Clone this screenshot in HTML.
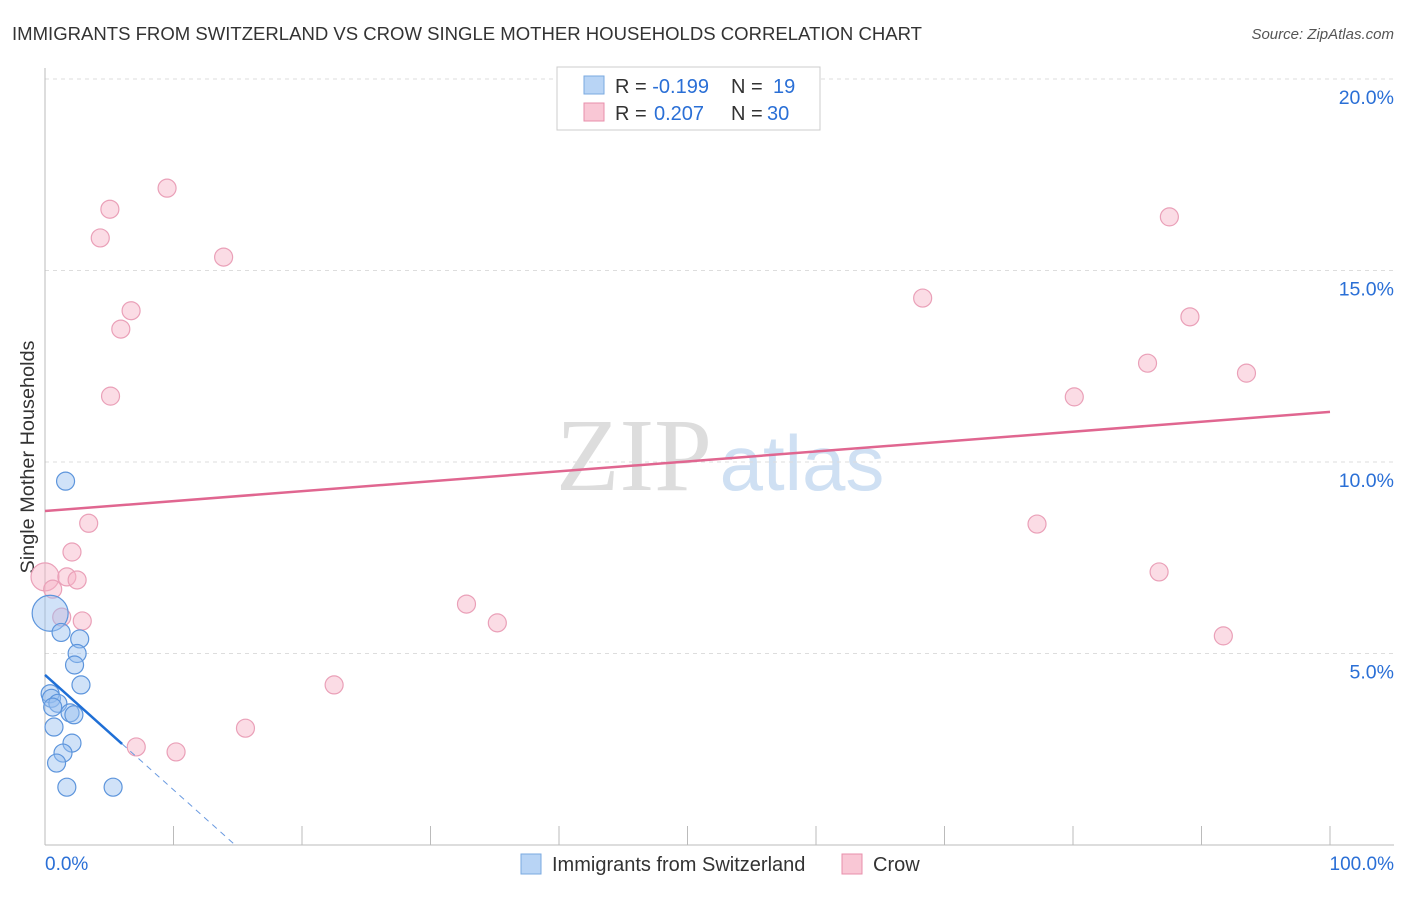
<!DOCTYPE html>
<html><head><meta charset="utf-8"><style>
body{margin:0;background:#fff;font-family:"Liberation Sans",sans-serif;}
</style></head><body>
<svg width="1406" height="892" xmlns="http://www.w3.org/2000/svg" id="svg">
<text x="12" y="40" font-size="18.5" fill="#333" textLength="910" lengthAdjust="spacingAndGlyphs">IMMIGRANTS FROM SWITZERLAND VS CROW SINGLE MOTHER HOUSEHOLDS CORRELATION CHART</text>
<text x="1394" y="39" font-size="15" fill="#555" font-style="italic" text-anchor="end">Source: ZipAtlas.com</text>
<text x="34" y="457" font-size="19" fill="#333" text-anchor="middle" textLength="233" lengthAdjust="spacingAndGlyphs" transform="rotate(-90 34 457)">Single Mother Households</text>
<g><text x="634" y="490" font-size="104" fill="#ddd" font-family="Liberation Serif" text-anchor="middle">ZIP</text><text x="802" y="490" font-size="78" fill="#cfe0f3" text-anchor="middle">atlas</text></g>
<g id="grid"></g><g id="axes"></g><g id="marks"></g>
<g>
<rect x="557" y="67" width="263" height="63" fill="#fff" stroke="#ccc"/>
<rect x="584" y="76" width="20" height="18" fill="#b8d4f5" stroke="#7aaae0"/>
<rect x="584" y="103" width="20" height="18" fill="#f9c7d5" stroke="#e88fab"/>
<text x="615" y="93" font-size="20" fill="#333">R = <tspan fill="#2a6fd6">-0.199</tspan><tspan x="731">N = </tspan><tspan x="773" fill="#2a6fd6">19</tspan></text>
<text x="615" y="120" font-size="20" fill="#333">R = <tspan x="654" fill="#2a6fd6">0.207</tspan><tspan x="731">N = </tspan><tspan x="767" fill="#2a6fd6">30</tspan></text>
</g>
<g>
<rect x="521" y="854" width="20" height="20" fill="#b8d4f5" stroke="#7aaae0"/>
<text x="552" y="871" font-size="20" fill="#333">Immigrants from Switzerland</text>
<rect x="842" y="854" width="20" height="20" fill="#f9c7d5" stroke="#e88fab"/>
<text x="873" y="871" font-size="20" fill="#333">Crow</text>
</g>
</svg>
<script>
const yTicks=[5,10,15,20];
const yTickLabels=["5.0%","10.0%","15.0%","20.0%"];
const blueX=[1.6,0.4,1.25,2.7,2.5,2.3,2.8,0.4,0.5,1.0,0.6,1.95,2.25,0.7,2.1,1.4,0.9,1.7,5.3];
const blueY=[9.5,6.05,5.55,5.38,5.0,4.7,4.18,3.95,3.83,3.7,3.6,3.45,3.4,3.08,2.66,2.4,2.14,1.51,1.51];
const pinkX=[3.4,2.1,0,1.7,2.5,0.6,1.3,2.9,7.1,10.2,4.3,5.05,9.5,13.9,6.7,5.9,5.1,32.8,35.2,22.5,15.6,68.3,87.5,89.1,85.8,93.5,80.1,77.2,86.7,91.7];
const pinkY=[8.4,7.65,7.0,7.0,6.92,6.68,5.95,5.85,2.56,2.43,15.85,16.6,17.15,15.35,13.95,13.47,11.72,6.29,5.8,4.18,3.05,14.28,16.4,13.79,12.58,12.32,11.7,8.38,7.13,5.46];
const pinkTrend=[8.72,11.31];
const blueTrend=[4.44,-0.30];
const NS="http://www.w3.org/2000/svg";
const X=v=>45+v*12.85, Y=v=>845-v*38.3;
function mk(t,a,p){const e=document.createElementNS(NS,t);for(const k in a)e.setAttribute(k,a[k]);document.getElementById(p).appendChild(e);return e;}
yTicks.forEach((t,i)=>{
 const g=mk('line',{x1:45,x2:1394,y1:Y(t),y2:Y(t),stroke:'#ddd','stroke-dasharray':'4,4'},'grid');
 
 
 const l=mk('text',{x:1394,y:Y(t)+25,'font-size':19.5,fill:'#2a6fd6','text-anchor':'end'},'axes');
 l.textContent=yTickLabels[i];
 
 
});
mk('line',{x1:45,x2:45,y1:68,y2:845,stroke:'#bbb'},'axes');
mk('line',{x1:45,x2:1394,y1:845,y2:845,stroke:'#bbb'},'axes');
for(let i=1;i<=10;i++){mk('line',{x1:X(i*10),x2:X(i*10),y1:826,y2:845,stroke:'#bbb'},'axes');}
let t0=mk('text',{x:45,y:870,'font-size':19,fill:'#2a6fd6'},'axes');t0.textContent='0.0%';

let t1=mk('text',{x:1394,y:870,'font-size':19,fill:'#2a6fd6','text-anchor':'end'},'axes');t1.textContent='100.0%';

pinkX.forEach((x,i)=>{const c=mk('circle',{cx:X(x),cy:Y(pinkY[i]),r:i==2?14:9,fill:'rgba(246,178,198,0.45)',stroke:'#eaa0b8','stroke-width':1.2},'marks');
 
 });
blueX.forEach((x,i)=>{const c=mk('circle',{cx:X(x),cy:Y(blueY[i]),r:i==1?18:9,fill:'rgba(150,190,240,0.45)',stroke:'#5d95dc','stroke-width':1.2},'marks');
 
 });
const pl=mk('line',{x1:X(0),y1:Y(pinkTrend[0]),x2:X(100),y2:Y(pinkTrend[1]),stroke:'#e06690','stroke-width':2.5},'marks');

const bl=mk('line',{x1:X(0),y1:Y(blueTrend[0]),x2:X(6),y2:Y(blueTrend[0]+blueTrend[1]*6),stroke:'#1f6fd6','stroke-width':2.5},'marks');

const x0=-blueTrend[0]/blueTrend[1];
const bd=mk('line',{x1:X(6),y1:Y(blueTrend[0]+blueTrend[1]*6),x2:X(x0),y2:Y(0),stroke:'#6a9ae0','stroke-width':1,'stroke-dasharray':'6,5'},'marks');

</script>
</body></html>
